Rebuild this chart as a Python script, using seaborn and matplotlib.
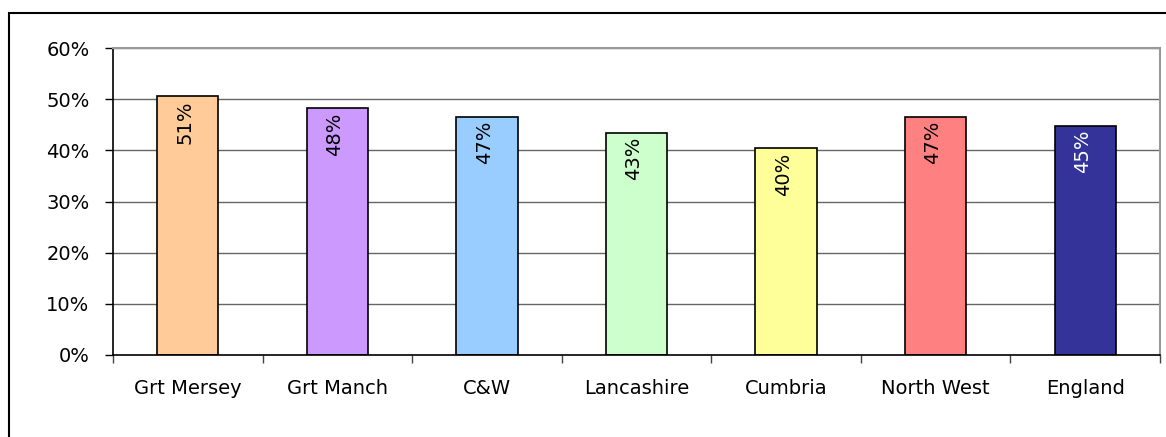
import numpy as np
import pandas as pd
import matplotlib
matplotlib.use("Agg")
import matplotlib.pyplot as plt
import matplotlib.patches as mpatches
from matplotlib.ticker import PercentFormatter
import seaborn as sns

areas = ["Grt Mersey", "Grt Manch", "C&W", "Lancashire", "Cumbria", "North West", "England"]
shares = [0.506, 0.482, 0.466, 0.434, 0.404, 0.466, 0.448]
labels = ["51%", "48%", "47%", "43%", "40%", "47%", "45%"]
colours = ["#FFCC99", "#CC99FF", "#99CCFF", "#CCFFCC", "#FFFF99", "#FF8080", "#333399"]
label_colours = ["black", "black", "black", "black", "black", "black", "white"]

df = pd.DataFrame({"area": areas, "share": shares})

sns.set_style("white")
plt.rcParams["font.family"] = ["DejaVu Sans"]
plt.rcParams["text.color"] = "black"
plt.rcParams["xtick.color"] = "black"
plt.rcParams["ytick.color"] = "black"

W, H = 1166, 437
fig = plt.figure(figsize=(W / 100, H / 100), dpi=100)
ax = fig.add_axes([113 / W, (H - 355) / H, (1160 - 113) / W, (355 - 48) / H])

# horizontal gridlines behind the bars
for v in np.arange(0.1, 0.61, 0.1):
    ax.axhline(v, color="#666666", lw=1, zorder=0)

sns.barplot(data=df, x="area", y="share", hue="area", palette=dict(zip(areas, colours)),
            saturation=1, width=0.41, edgecolor="black", linewidth=1.2, legend=False,
            ax=ax, zorder=2)

for i, (v, lab, c) in enumerate(zip(shares, labels, label_colours)):
    ax.annotate(lab, xy=(i, v), xytext=(-2, -3), textcoords="offset points",
                rotation=90, ha="center", va="top", fontsize=14, color=c, zorder=3)

ax.set_ylim(0, 0.6)
ax.set_xlim(-0.5, 6.5)
ax.set_yticks(np.arange(0, 0.61, 0.1))
ax.yaxis.set_major_formatter(PercentFormatter(1.0, decimals=0))
ax.tick_params(axis="y", left=True, length=6, width=1, pad=11, labelsize=14, color="black")
ax.set_xticks(range(len(areas)))
ax.set_xticklabels(areas)
ax.tick_params(axis="x", which="major", length=0, pad=17, labelsize=14)
ax.set_xticks(np.arange(-0.5, 7, 1), minor=True)
ax.tick_params(axis="x", which="minor", bottom=True, length=6, width=1, color="#444444")
ax.set_xlabel("")
ax.set_ylabel("")

for s in ["left", "bottom"]:
    ax.spines[s].set_color("black")
    ax.spines[s].set_linewidth(1.2)
for s in ["top", "right"]:
    ax.spines[s].set_color("#999999")
    ax.spines[s].set_linewidth(1.5)

# outer chart frame (cut off at right and bottom)
fig.add_artist(mpatches.Rectangle((9 / W, -0.2), 1.2, (H - 13) / H + 0.2,
                                  transform=fig.transFigure, fill=False,
                                  edgecolor="black", lw=1.5, clip_on=False))

fig.savefig("out.png", dpi=100)
